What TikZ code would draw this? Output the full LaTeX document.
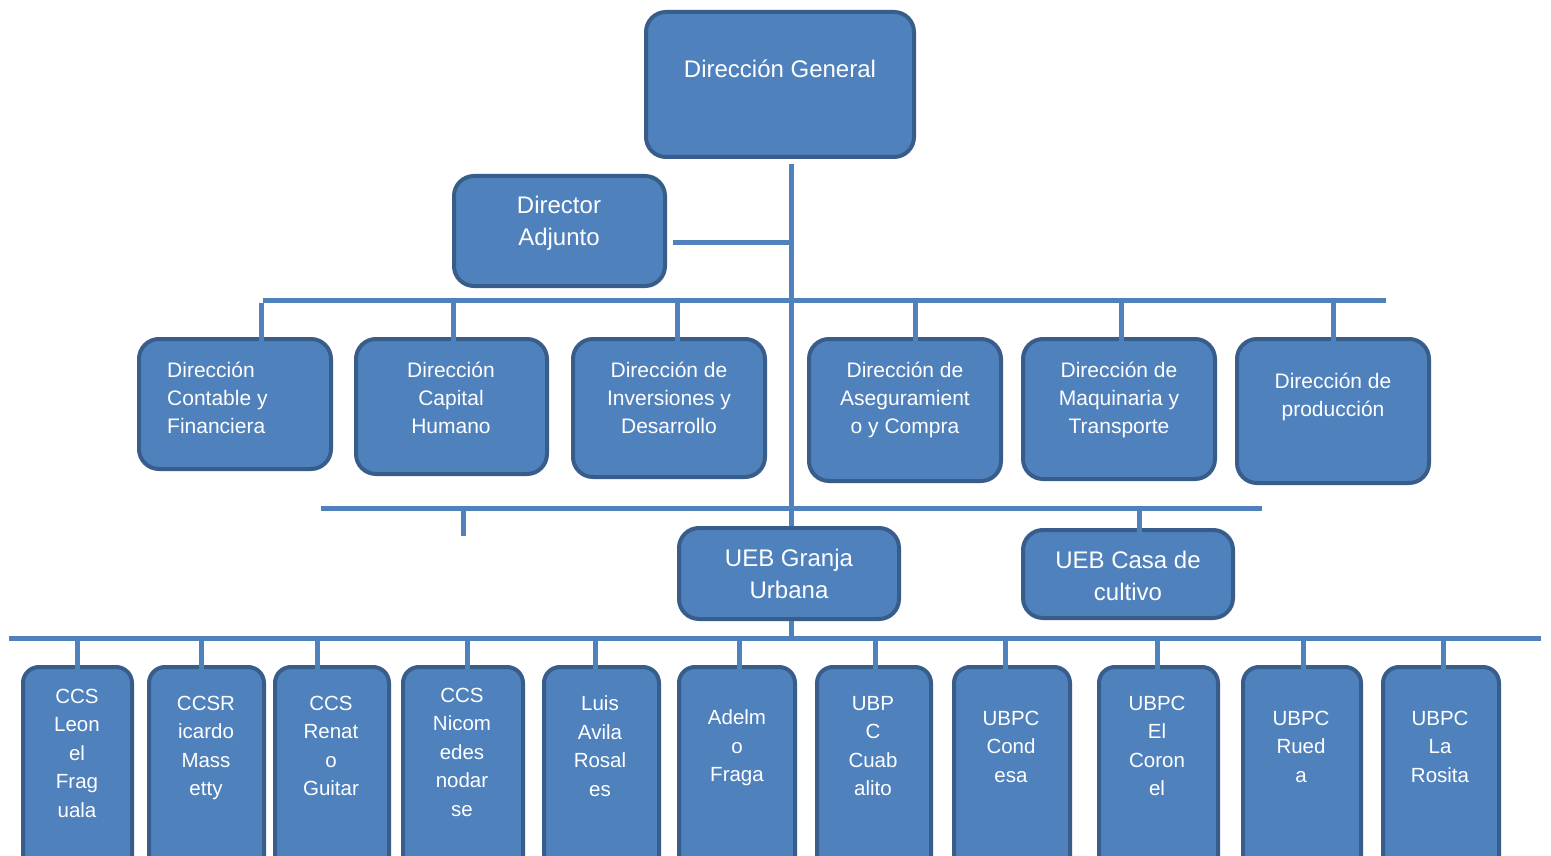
\documentclass[tikz,border=0pt]{standalone}
\usepackage{fontspec}
\setmainfont{Liberation Sans}
\usetikzlibrary{calc}

\definecolor{unitblue}{HTML}{4F81BD}
\definecolor{unitedge}{HTML}{385D8A}

\tikzset{
  unit/.style={draw=unitedge,line width=4pt,fill=unitblue,
    rounded corners=20pt,inner sep=0pt},
  unitsmall/.style={unit,rounded corners=16pt},
  lbl/.style={text=white,align=center,inner sep=0pt},
  lblbig/.style={lbl,font=\fontsize{24}{32}\selectfont},
  lblmid/.style={lbl,font=\fontsize{21}{28}\selectfont},
  lblsmall/.style={lbl,font=\fontsize{20.5}{28.5}\selectfont},
  bus/.style={draw=unitblue,line width=5pt},
}

\begin{document}
\begin{tikzpicture}[x=1pt,y=-1pt]
    \useasboundingbox (0,0) rectangle (1551,856);
    \fill[white] (0,0) rectangle (1551,856);
    \clip (0,0) rectangle (1551,856);

    % top level
    \node[unit,minimum width=268pt,minimum height=145pt] (dg) at (780,84.5) {};
    \node[lblbig] (dg-t) at (780,69) {Dirección General};
    \node[unit,minimum width=211pt,minimum height=110pt] (da) at (559.5,231) {};
    \node[lblbig] (da-t) at (559,223) {Director\\Adjunto};

    % direcciones
    \node[unit,minimum width=192pt,minimum height=130pt] (m1) at (235,404) {};
    \node[lblmid,align=left,anchor=west] (m1-t) at (167,398) {Dirección\\Contable y\\Financiera};
    \node[unit,minimum width=191pt,minimum height=135pt] (m2) at (451.5,406.5) {};
    \node[lblmid] (m2-t) at (451,398) {Dirección\\Capital\\Humano};
    \node[unit,minimum width=192pt,minimum height=138pt] (m3) at (669,408) {};
    \node[lblmid] (m3-t) at (669,398) {Dirección de\\Inversiones y\\Desarrollo};
    \node[unit,minimum width=192pt,minimum height=142pt] (m4) at (905,410) {};
    \node[lblmid] (m4-t) at (905,400) {Dirección de\\Aseguramient\\o y Compra};
    \node[unit,minimum width=192pt,minimum height=140pt] (m5) at (1119,409) {};
    \node[lblmid] (m5-t) at (1119,400) {Dirección de\\Maquinaria y\\Transporte};
    \node[unit,minimum width=192pt,minimum height=144pt] (m6) at (1333,411) {};
    \node[lblmid] (m6-t) at (1333,397) {Dirección de\\producción};

    % UEB
    \node[unit,minimum width=220pt,minimum height=91pt] (ug) at (789,573.5) {};
    \node[lblbig] (ug-t) at (789,574) {UEB Granja\\Urbana};
    \node[unit,minimum width=210pt,minimum height=88pt] (uc) at (1128,574) {};
    \node[lblbig] (uc-t) at (1128,576) {UEB Casa de\\cultivo};

    % unidades de base
    \node[unitsmall,minimum width=109pt,minimum height=221pt] (b1) at (77.5,777.5) {};
    \node[lblsmall] (b1-t) at (77,753) {CCS\\Leon\\el\\Frag\\uala};
    \node[unitsmall,minimum width=115pt,minimum height=221pt] (b2) at (206.5,777.5) {};
    \node[lblsmall] (b2-t) at (206,748) {CCSR\\icardo\\Mass\\etty};
    \node[unitsmall,minimum width=114pt,minimum height=221pt] (b3) at (332,777.5) {};
    \node[lblsmall] (b3-t) at (331,746) {CCS\\Renat\\o\\Guitar};
    \node[unitsmall,minimum width=120pt,minimum height=221pt] (b4) at (463,777.5) {};
    \node[lblsmall] (b4-t) at (462,752) {CCS\\Nicom\\edes\\nodar\\se};
    \node[unitsmall,minimum width=115pt,minimum height=221pt] (b5) at (601.5,777.5) {};
    \node[lblsmall] (b5-t) at (600,746) {Luis\\Avila\\Rosal\\es};
    \node[unitsmall,minimum width=116pt,minimum height=221pt] (b6) at (737,777.5) {};
    \node[lblsmall] (b6-t) at (737,748) {Adelm\\o\\Fraga};
    \node[unitsmall,minimum width=114pt,minimum height=221pt] (b7) at (874,777.5) {};
    \node[lblsmall] (b7-t) at (873,746) {UBP\\C\\Cuab\\alito};
    \node[unitsmall,minimum width=116pt,minimum height=221pt] (b8) at (1012,777.5) {};
    \node[lblsmall] (b8-t) at (1011,746.5) {UBPC\\Cond\\esa};
    \node[unitsmall,minimum width=119pt,minimum height=221pt] (b9) at (1158.5,777.5) {};
    \node[lblsmall] (b9-t) at (1157,746) {UBPC\\El\\Coron\\el};
    \node[unitsmall,minimum width=118pt,minimum height=221pt] (b10) at (1302,777.5) {};
    \node[lblsmall] (b10-t) at (1301,746.5) {UBPC\\Rued\\a};
    \node[unitsmall,minimum width=116pt,minimum height=221pt] (b11) at (1441,777.5) {};
    \node[lblsmall] (b11-t) at (1440,746.5) {UBPC\\La\\Rosita};

    % trunk and director adjunto
    \coordinate (trunk) at (791,164);
    \draw[bus] (trunk) -- (trunk |- ug.north);
    \coordinate (da-e) at (673,242);
    \draw[bus] (da-e) -- (da-e -| trunk);

    % bus of the direcciones
    \coordinate (busA-w) at (263,300);
    \coordinate (busA-e) at (1386,300);
    \draw[bus] (busA-w) -- (busA-e);
    \coordinate (a1) at (261,303);
    \coordinate (a2) at (453,303);
    \coordinate (a3) at (677,303);
    \coordinate (a4) at (915,303);
    \coordinate (a5) at (1121,303);
    \coordinate (a6) at (1333,303);
    \draw[bus] (a1) -- (a1 |- m1.north) -- ++(0,10);
    \draw[bus] (a2) -- (a2 |- m2.north) -- ++(0,10);
    \draw[bus] (a3) -- (a3 |- m3.north) -- ++(0,10);
    \draw[bus] (a4) -- (a4 |- m4.north) -- ++(0,10);
    \draw[bus] (a5) -- (a5 |- m5.north) -- ++(0,10);
    \draw[bus] (a6) -- (a6 |- m6.north) -- ++(0,10);

    % bus of the UEB
    \coordinate (busB-w) at (321,508);
    \coordinate (busB-e) at (1262,508);
    \draw[bus] (busB-w) -- (busB-e);
    \coordinate (stub) at (463,536);
    \draw[bus] (stub |- busB-w) -- (stub);
    \coordinate (u2) at (1139,511);
    \draw[bus] (u2) -- (u2 |- uc.north) -- ++(0,12);

    % bus of the unidades
    \coordinate (busC-w) at (9,638);
    \coordinate (busC-e) at (1541,638);
    \draw[bus] (busC-w) -- (busC-e);
    \draw[bus] (ug.south -| trunk) -- (trunk |- busC-w);
    \coordinate (c1) at (77,641);
    \coordinate (c2) at (201,641);
    \coordinate (c3) at (317,641);
    \coordinate (c4) at (467,641);
    \coordinate (c5) at (595,641);
    \coordinate (c6) at (739,641);
    \coordinate (c7) at (875,641);
    \coordinate (c8) at (1005,641);
    \coordinate (c9) at (1157,641);
    \coordinate (c10) at (1303,636);
    \coordinate (c11) at (1443,641);
    \draw[bus] (c1) -- (c1 |- b1.north) -- ++(0,5);
    \draw[bus] (c2) -- (c2 |- b2.north) -- ++(0,5);
    \draw[bus] (c3) -- (c3 |- b3.north) -- ++(0,5);
    \draw[bus] (c4) -- (c4 |- b4.north) -- ++(0,5);
    \draw[bus] (c5) -- (c5 |- b5.north) -- ++(0,5);
    \draw[bus] (c6) -- (c6 |- b6.north) -- ++(0,5);
    \draw[bus] (c7) -- (c7 |- b7.north) -- ++(0,5);
    \draw[bus] (c8) -- (c8 |- b8.north) -- ++(0,5);
    \draw[bus] (c9) -- (c9 |- b9.north) -- ++(0,5);
    \draw[bus] (c10) -- (c10 |- b10.north) -- ++(0,5);
    \draw[bus] (c11) -- (c11 |- b11.north) -- ++(0,5);
\end{tikzpicture}
\end{document}
